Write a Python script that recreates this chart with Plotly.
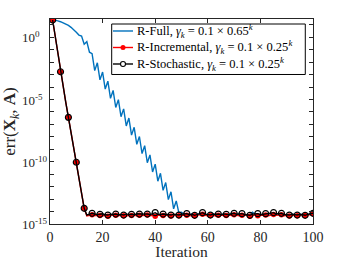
import plotly.graph_objects as go

# ---------------- data (log10 of err) ----------------
iterations = list(range(1, 101))

full_log10 = [
    1.40, 1.37, 1.32, 1.25, 1.17, 1.07, 0.95, 0.80, 0.62, 0.40,
    0.18, 0.10, -0.55, -0.35, -1.20, -1.31, -2.68, -2.05, -3.42, -2.79,
    -4.16, -3.53, -4.90, -4.27, -5.64, -5.01, -6.38, -5.75, -7.12, -6.49,
    -7.86, -7.23, -8.60, -7.97, -9.34, -8.71, -10.08, -9.45, -10.82, -10.19,
    -11.56, -10.93, -12.30, -11.67, -13.04, -12.41, -13.78, -13.15, -14.10, -14.06,
    -14.20, -14.18, -14.25, -14.20, -14.28, -14.22, -14.19, -14.12, -14.24, -14.27,
    -14.26, -14.21, -14.25, -14.20, -14.27, -14.22, -14.23, -14.26, -14.19, -14.17,
    -14.24, -14.21, -14.19, -14.25, -14.28, -14.27, -14.05, -14.22, -14.20, -14.26,
    -14.23, -14.18, -14.22, -14.17, -14.12, -14.22, -14.18, -14.17, -14.25, -14.28,
    -14.27, -14.22, -14.26, -14.27, -14.23, -14.25, -14.28, -14.24, -14.20, -14.16,
]

stochastic_log10 = [
    1.39, 0.00, -1.39, -2.77, -4.00, -5.22, -6.43, -7.64, -8.84, -10.04,
    -11.27, -12.50, -13.74, -14.28, -14.22, -14.14, -14.20, -14.25, -14.22, -14.18,
    -14.26, -14.28, -14.21, -14.24, -14.20, -14.27, -14.23, -14.28, -14.19, -14.25,
    -14.22, -14.26, -14.18, -14.20, -14.24, -14.21, -14.20, -14.26, -14.17, -14.09,
    -14.22, -14.25, -14.20, -14.23, -14.27, -14.28, -14.21, -14.26, -14.28, -14.22,
    -14.19, -14.17, -14.25, -14.22, -14.30, -14.24, -14.18, -14.09, -14.21, -14.26,
    -14.28, -14.20, -14.23, -14.20, -14.26, -14.19, -14.22, -14.25, -14.18, -14.14,
    -14.22, -14.19, -14.17, -14.24, -14.27, -14.30, -14.21, -14.19, -14.17, -14.25,
    -14.22, -14.17, -14.20, -14.15, -14.09, -14.20, -14.16, -14.14, -14.24, -14.27,
    -14.28, -14.21, -14.25, -14.28, -14.22, -14.26, -14.30, -14.23, -14.18, -14.14,
]

incremental_log10 = [
    1.39, 0.00, -1.39, -2.77, -4.00, -5.22, -6.43, -7.64, -8.84, -10.04,
    -11.27, -12.50, -13.74, -14.35, -14.30, -14.26, -14.33, -14.29, -14.31, -14.36,
    -14.28, -14.37, -14.30, -14.27, -14.30, -14.34, -14.29, -14.33, -14.36, -14.30,
    -14.31, -14.27, -14.35, -14.29, -14.32, -14.30, -14.28, -14.34, -14.30, -14.38,
    -14.29, -14.33, -14.31, -14.28, -14.35, -14.36, -14.30, -14.27, -14.33, -14.30,
    -14.28, -14.29, -14.35, -14.31, -14.33, -14.29, -14.27, -14.22, -14.30, -14.34,
    -14.31, -14.28, -14.35, -14.30, -14.29, -14.33, -14.31, -14.27, -14.32, -14.26,
    -14.30, -14.34, -14.29, -14.31, -14.28, -14.37, -14.30, -14.27, -14.33, -14.30,
    -14.29, -14.28, -14.34, -14.30, -14.24, -14.31, -14.28, -14.26, -14.33, -14.30,
    -14.35, -14.29, -14.31, -14.33, -14.28, -14.30, -14.32, -14.29, -14.25, -14.18,
]

marker_every = 3

series_names = [
    "R-Full, <i>γ</i><sub><i>k</i></sub> = 0.1 × 0.65<sup><i>k</i></sup>",
    "R-Incremental, <i>γ</i><sub><i>k</i></sub> = 0.1 × 0.25<sup><i>k</i></sup>",
    "R-Stochastic, <i>γ</i><sub><i>k</i></sub> = 0.1 × 0.25<sup><i>k</i></sup>",
]
series_colors = ["#0072BD", "#FF0000", "black"]
series_markers = [None, "filled", "open"]

x_tick_vals = [0, 20, 40, 60, 80, 100]
y_major_exps = [0, -5, -10, -15]
y_minor_exps = list(range(-15, 2))
y_tick_labels = ["10<sup>0</sup>", "10<sup>-5</sup>", "10<sup>-10</sup>", "10<sup>-15</sup>"]

# ---------------- figure ----------------
FONT = "Liberation Serif, Times New Roman, serif"
INK = "#262626"

def to_lin(vals):
    return [10 ** v for v in vals]

full_y = to_lin(full_log10)
inc_y = to_lin(incremental_log10)
sto_y = to_lin(stochastic_log10)

fig = go.Figure()

# R-Full
fig.add_trace(go.Scatter(x=iterations, y=full_y, mode="lines",
                         line=dict(color=series_colors[0], width=1.4),
                         name="R-Full", showlegend=False))

# R-Incremental: line for all iterations, markers every 3rd
fig.add_trace(go.Scatter(x=iterations, y=inc_y, mode="lines",
                         line=dict(color=series_colors[1], width=1.4),
                         name="R-Incremental", showlegend=False))
fig.add_trace(go.Scatter(x=iterations[::marker_every], y=inc_y[::marker_every], mode="markers",
                         marker=dict(symbol="circle", size=5.5, color=series_colors[1]),
                         name="R-Incremental", showlegend=False))

# R-Stochastic
fig.add_trace(go.Scatter(x=iterations, y=sto_y, mode="lines",
                         line=dict(color=series_colors[2], width=1.4),
                         name="R-Stochastic", showlegend=False))
fig.add_trace(go.Scatter(x=iterations[::marker_every], y=sto_y[::marker_every], mode="markers",
                         marker=dict(symbol="circle-open", size=6, color=series_colors[2],
                                     line=dict(width=1.2, color=series_colors[2])),
                         name="R-Stochastic", showlegend=False))

# y tick labels as left-aligned annotations (MATLAB style)
for e, lab in zip(y_major_exps, y_tick_labels):
    fig.add_annotation(x=-0.114, xref="paper", xanchor="left",
                       y=e, yref="y", yanchor="middle",
                       text=lab, showarrow=False,
                       font=dict(family=FONT, size=13, color=INK))

# ---- legend box (MATLAB style, compact rows) in paper coordinates ----
leg_x0, leg_x1 = 0.2346, 0.9707
leg_y0, leg_y1 = 0.7293, 0.9756
row_y = [0.9415, 0.861, 0.7805]
samp_x0, samp_x1, samp_xm = 0.2395, 0.3156, 0.2776
text_x = 0.3232

fig.add_shape(type="rect", xref="paper", yref="paper",
              x0=leg_x0, x1=leg_x1, y0=leg_y0, y1=leg_y1,
              line=dict(color="black", width=1), fillcolor="white", layer="above")
for name, col, mk, ry in zip(series_names, series_colors, series_markers, row_y):
    fig.add_shape(type="line", xref="paper", yref="paper",
                  x0=samp_x0, x1=samp_x1, y0=ry, y1=ry,
                  line=dict(color=col, width=1.4), layer="above")
    if mk == "filled":
        fig.add_shape(type="circle", xref="paper", yref="paper",
                      xsizemode="pixel", ysizemode="pixel",
                      xanchor=samp_xm, yanchor=ry, x0=-2.5, x1=2.5, y0=-2.5, y1=2.5,
                      fillcolor=col, line=dict(color=col, width=0), layer="above")
    elif mk == "open":
        fig.add_shape(type="circle", xref="paper", yref="paper",
                      xsizemode="pixel", ysizemode="pixel",
                      xanchor=samp_xm, yanchor=ry, x0=-2.5, x1=2.5, y0=-2.5, y1=2.5,
                      fillcolor="white", line=dict(color=col, width=1.1), layer="above")
    fig.add_annotation(x=text_x, y=ry, xref="paper", yref="paper",
                       xanchor="left", yanchor="middle", showarrow=False,
                       text=name, font=dict(family=FONT, size=12.5, color="black"))

fig.update_layout(
    width=346, height=260,
    margin=dict(l=50, r=33, t=19, b=36, autoexpand=False),
    paper_bgcolor="white", plot_bgcolor="white",
    font=dict(family=FONT, color=INK),
    showlegend=False,
)

fig.update_xaxes(
    range=[0, 100], tickvals=x_tick_vals,
    ticks="inside", ticklen=4, tickcolor=INK,
    showline=True, linecolor=INK, linewidth=1, mirror="ticks",
    showgrid=False, zeroline=False, automargin=False,
    tickfont=dict(family=FONT, size=14, color=INK),
    title=dict(text="Iteration", font=dict(family=FONT, size=15.5, color=INK), standoff=4),
)

fig.update_yaxes(
    type="log", range=[-15, 1.47],
    tickvals=[10 ** e for e in y_minor_exps],
    showticklabels=False, automargin=False,
    ticks="inside", ticklen=4, tickcolor=INK,
    showline=True, linecolor=INK, linewidth=1, mirror="ticks",
    showgrid=False, zeroline=False,
    title=dict(text="err(<b>X</b><sub><i>k</i></sub>, <b>A</b>)",
               font=dict(family=FONT, size=17, color=INK), standoff=30),
)

fig.write_html("out.html",
               config={"displayModeBar": False},
               post_script="document.body.style.margin='0px';document.body.style.overflow='hidden';")
